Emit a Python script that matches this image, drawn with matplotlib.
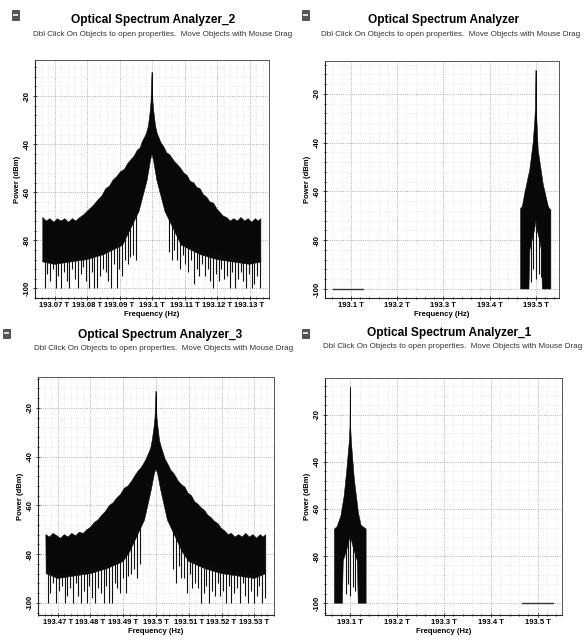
import numpy as np
import matplotlib.pyplot as plt
from matplotlib.ticker import MultipleLocator, FuncFormatter
from matplotlib.patches import Rectangle

plt.rcParams['font.family'] = ['Liberation Sans', 'DejaVu Sans']

W, H = 587, 641

# ---- data (offsets in GHz from the channel centre, power in dBm) ----
# read points along the top edge of the zoomed spectra
zoom_up_off = [-33.6, -32.5, -31.4, -30.2, -29.1, -28.0, -26.8, -25.7, -24.5, -23.4, -22.2,
               -21.1, -20.0, -18.8, -17.7, -16.5, -15.4, -14.2, -13.1, -12.0, -10.8, -9.7, -8.5,
               -7.4, -6.5, -5.5, -4.5, -3.6, -3.0, -2.2, -1.6, -1.1, -0.6, -0.3, 0,
               0.3, 0.6, 1.1, 1.6, 2.2, 2.8, 3.6, 4.5, 5.5, 6.8, 7.8, 8.8, 9.8, 10.8, 11.8,
               12.8, 13.8, 14.8, 15.8, 16.8, 17.8, 18.9, 20.0, 21.0, 22.0, 23.0, 24.1, 25.2,
               26.3, 27.4, 28.5, 29.6, 30.7, 31.8, 32.7, 33.5]
# positions of the downward noise strands below the zoomed spectra
zoom_dip_off = [-33.0, -32.2, -31.3, -30.5, -29.6, -28.8, -27.9, -27.1, -26.2, -25.4, -24.5,
                -23.7, -22.8, -22.0, -21.1, -20.3, -19.4, -18.6, -17.7, -16.9, -16.0, -15.2,
                -14.3, -13.5, -12.6, -11.8, -10.9, -10.1, -9.2, -8.4, -7.5, -6.7, -5.8, -5.0,
                5.2, 6.0, 6.9, 7.7, 8.6, 9.4, 10.3, 11.1, 12.0, 12.8, 13.7, 14.5, 15.4, 16.2,
                17.1, 17.9, 18.8, 19.6, 20.5, 21.3, 22.2, 23.0, 23.9, 24.7, 25.6, 26.4, 27.3,
                28.1, 29.0, 29.8, 30.7, 31.5, 32.4, 33.2]

# Optical Spectrum Analyzer_2 (zoomed, centre 193.1 THz)
osa2_center = 193.1
osa2_up_db = [-70.5, -72, -71, -72.5, -71, -72, -71, -72.5, -71, -72, -70.5,
              -69.5, -68, -66.5, -65, -63, -61.5, -58.5, -57.5, -55, -53.5, -51.5, -50.5,
              -48, -46.5, -45, -42.5, -41.5, -39, -37, -35, -32.5, -27, -22.5, -10,
              -22.5, -27, -32.5, -35.5, -37.5, -39.5, -41, -43.5, -44.5, -47, -48.5, -50, -52,
              -53, -55.5, -56, -58, -58.5, -61, -62, -64, -64.5, -67, -68.5, -70, -70.5,
              -72, -71, -72, -70.5, -72, -71, -72.5, -71, -72, -71]
osa2_lo_off = [-33.6, -30, -25, -20, -15, -9, -4, -1.5, -0.5, 0, 0.5, 1.5, 4, 9, 15, 20, 25, 30, 33.5]
osa2_lo_db = [-89, -90, -89, -88, -86, -82, -68, -55, -47, -44, -47, -55, -68, -82, -86, -88, -89, -90, -89]
osa2_dip_db = [-100, -94, -97, -92, -100, -95, -100, -93, -97, -100, -92, -96, -100, -94, -91, -97,
               -100, -93, -100, -100, -95, -92, -93, -97, -100, -90, -100, -92, -95, -88, -90, -87,
               -86, -88,
               -85, -88, -84, -88, -92, -86, -90, -93, -88, -98, -92, -95, -90, -95, -92, -97,
               -100, -94, -97, -92, -96, -95, -100, -93, -100, -96, -93, -97, -100, -94, -100,
               -98, -95, -100]

# Optical Spectrum Analyzer_3 (zoomed, centre 193.5 THz)
osa3_center = 193.5
osa3_up_db = [-72, -73, -71.5, -72.5, -73.5, -72, -73, -71.5, -72.5, -71, -71.5,
              -70, -69, -67, -66, -64, -62.5, -60, -59, -57, -55.5, -53, -52,
              -50, -48, -46, -44.5, -42.5, -41, -38.5, -36.5, -33, -28, -24, -13,
              -24, -28, -33.5, -36, -38.5, -41, -43, -45.5, -47, -50, -51.5, -52.5, -55,
              -56, -58.5, -59.5, -61, -62, -64, -65, -66.5, -67.5, -69.5, -70.5, -72, -71.5,
              -73, -72, -73, -71.5, -73, -72, -73.5, -72, -73, -72]
osa3_lo_off = [-33.5, -30, -25, -20, -15, -10, -8, -3.5, -1.5, -0.5, 0, 0.5, 1.5, 3.5, 8, 10, 15, 20, 25, 30, 33.5]
osa3_lo_db = [-88, -90, -89, -88, -86, -83, -79, -66, -54, -47, -45, -47, -54, -66, -79, -83, -86, -88, -89, -90, -88]
osa3_dip_db = [-100, -96, -92, -100, -95, -93, -100, -97, -94, -100, -92, -97, -100, -95, -100, -93,
               -98, -100, -94, -96, -100, -93, -100, -100, -92, -94, -96, -90, -96, -89, -88, -86,
               -90, -84,
               -86, -92, -85, -90, -90, -96, -88, -94, -92, -94, -100, -96, -93, -100, -95, -97,
               -92, -97, -95, -100, -93, -100, -96, -94, -100, -92, -97, -100, -95, -100, -97,
               -93, -100, -98]

# Optical Spectrum Analyzer (wide span, channel at 193.5 THz)
osa_center = 193.5
osa_up_off = [-33, -29, -23.8, -13, -5.8, -2.2, -0.8, 0, 0.8, 2.5, 5, 15.8, 26.6, 29, 32.4]
osa_up_db = [-67, -66, -60.6, -51, -40, -30.7, -25, -10.2, -25, -32, -43, -57, -66, -67, -67.5]
osa_lo_off = [-33, -15, -13, -8, -3, 0, 3, 8, 12, 14, 32.4]
osa_lo_db = [-100, -100, -84, -80, -76, -72, -76, -80, -84, -100, -100]
osa_dip_off = [0, -6, 6, -10, 10]
osa_dip_db = [-96, -92, -94, -97, -95]
osa_floor = [193.062, 193.127]

# Optical Spectrum Analyzer_1 (wide span, channel at 193.1 THz)
osa1_center = 193.1
osa1_up_off = [-33.8, -28, -20, -13, -7.2, -2.2, -0.6, 0, 0.6, 2.9, 8.6, 17.3, 23, 30, 33.8]
osa1_up_db = [-68.6, -67.5, -63, -54.5, -43, -31.7, -25, -8.2, -25, -33, -47.4, -61.6, -67, -68, -68.6]
osa1_lo_off = [-33.8, -17, -15, -7, -2, 0, 2, 7, 15, 17, 33.8]
osa1_lo_db = [-100, -100, -82, -77, -73, -71.5, -73, -77, -82, -100, -100]
osa1_dip_off = [0, -5, 5, -10, 11]
osa1_dip_db = [-97, -92, -93, -96, -95]
osa1_floor = [193.467, 193.532]

titles = ["Optical Spectrum Analyzer_2", "Optical Spectrum Analyzer",
          "Optical Spectrum Analyzer_3", "Optical Spectrum Analyzer_1"]
subtitle = "Dbl Click On Objects to open properties.  Move Objects with Mouse Drag"


def px_rect(x0, x1, y0, y1):
    return [x0 / W, 1 - y1 / H, (x1 - x0) / W, (y1 - y0) / H]


def draw_spectrum(ax, center, up_off, up_db, lo_off, lo_db, dip_off, dip_db):
    fu = center + np.array(up_off) / 1000.0
    fl = center + np.array(lo_off) / 1000.0
    ax.fill(np.r_[fu, fl[::-1]], np.r_[up_db, lo_db[::-1]], color="#080808", lw=0.4,
            ec="#080808", zorder=3)
    fd = center + np.array(dip_off) / 1000.0
    tops = np.interp(dip_off, lo_off, lo_db) + 2
    ax.vlines(fd, dip_db, tops, color="#111111", lw=0.8, zorder=3)
    ax.vlines(center, np.interp(0, lo_off, lo_db), max(up_db), color="#080808", lw=0.7, zorder=3)


def style_axes(ax, xlim, ylim, major, minor, fmt):
    ax.set_xlim(*xlim)
    ax.set_ylim(*ylim)
    ax.xaxis.set_major_locator(MultipleLocator(major))
    ax.xaxis.set_minor_locator(MultipleLocator(minor))
    ax.yaxis.set_major_locator(MultipleLocator(20))
    ax.yaxis.set_minor_locator(MultipleLocator(4))
    ax.xaxis.set_major_formatter(FuncFormatter(lambda v, p: fmt(v) + " T"))
    ax.yaxis.set_major_formatter(FuncFormatter(lambda v, p: "%d" % round(v)))
    ax.grid(which="major", ls=":", color="#9a9a9a", lw=0.6)
    ax.grid(which="minor", ls=":", color="#dddddd", lw=0.5)
    ax.set_axisbelow(True)
    ax.tick_params(which="both", direction="inout", color="#222222", width=0.6,
                   labelsize=5.5, pad=1.5)
    ax.tick_params(which="major", length=3)
    ax.tick_params(which="minor", length=2)
    for lab in ax.get_yticklabels():
        lab.set_rotation(90)
        lab.set_va("center")
        lab.set_fontweight("bold")
    for lab in ax.get_xticklabels():
        lab.set_fontweight("bold")
    for side in ["top", "right"]:
        ax.spines[side].set_linestyle((0, (2, 1)))
        ax.spines[side].set_color("#555555")
        ax.spines[side].set_linewidth(0.7)
    for side in ["left", "bottom"]:
        ax.spines[side].set_color("#222222")
        ax.spines[side].set_linewidth(0.8)
    ax.set_xlabel("Frequency (Hz)", fontsize=5.5, fontweight="bold", labelpad=1)
    ax.set_ylabel("Power (dBm)", fontsize=5.5, fontweight="bold", labelpad=2)


fig = plt.figure(figsize=(W / 100, H / 100), dpi=100)
fig.patch.set_facecolor("white")

fmt2 = lambda v: ("%.2f" % v).rstrip("0").rstrip(".")
fmt1 = lambda v: "%.1f" % v

ax_tl = fig.add_axes(px_rect(35, 269, 60, 298))
draw_spectrum(ax_tl, osa2_center, zoom_up_off, osa2_up_db, osa2_lo_off, osa2_lo_db,
              zoom_dip_off, osa2_dip_db)
style_axes(ax_tl, (193.064, 193.136), (-104, -5), 0.01, 0.002, fmt2)

ax_tr = fig.add_axes(px_rect(325, 559, 61, 298))
draw_spectrum(ax_tr, osa_center, osa_up_off, osa_up_db, osa_lo_off, osa_lo_db, osa_dip_off, osa_dip_db)
ax_tr.plot(osa_floor, [-100, -100], color="#333333", lw=1.0, zorder=3)
style_axes(ax_tr, (193.044, 193.55), (-103.7, -6.5), 0.1, 0.02, fmt1)

ax_bl = fig.add_axes(px_rect(38, 274, 377, 615))
draw_spectrum(ax_bl, osa3_center, zoom_up_off, osa3_up_db, osa3_lo_off, osa3_lo_db,
              zoom_dip_off, osa3_dip_db)
style_axes(ax_bl, (193.464, 193.536), (-105, -7.3), 0.01, 0.002, fmt2)

ax_br = fig.add_axes(px_rect(325, 562, 378, 615))
draw_spectrum(ax_br, osa1_center, osa1_up_off, osa1_up_db, osa1_lo_off, osa1_lo_db, osa1_dip_off, osa1_dip_db)
ax_br.plot(osa1_floor, [-100, -100], color="#333333", lw=1.0, zorder=3)
style_axes(ax_br, (193.046, 193.552), (-105, -4.5), 0.1, 0.02, fmt1)

# titles, hint lines and window icons
title_pos = [(153, 20, 163, 34, 15, 15), (444, 20, 451, 34, 305, 15),
             (160, 335, 164, 348, 6, 333), (449, 333, 453, 346, 305, 333)]
for t, (tx, ty, sx, sy, ix, iy) in zip(titles, title_pos):
    fig.text(tx / W, 1 - ty / H, t, ha="center", va="center", fontsize=8.6, fontweight="bold")
    fig.text(sx / W, 1 - sy / H, subtitle, ha="center", va="center", fontsize=5.8, color="#333333")
    fig.add_artist(Rectangle(((ix - 3.5) / W, 1 - (iy + 4.5) / H), 7 / W, 9 / H,
                             transform=fig.transFigure, fc="#555555", ec="#333333", lw=0.5))
    fig.add_artist(Rectangle(((ix - 2.5) / W, 1 - (iy + 1) / H), 5 / W, 2 / H,
                             transform=fig.transFigure, fc="#dddddd", ec="none"))

fig.savefig("out.png", dpi=100)
